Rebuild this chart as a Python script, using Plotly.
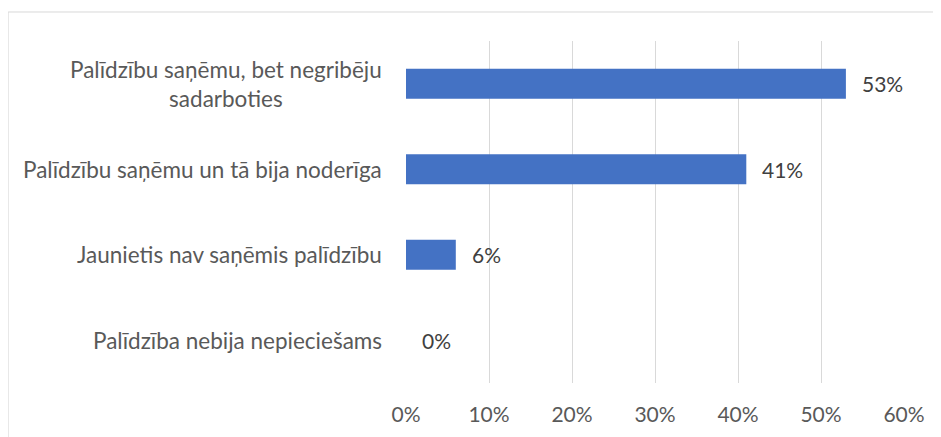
import plotly.graph_objects as go

categories = [
    "Palīdzību saņēmu, bet negribēju<br>sadarboties",
    "Palīdzību saņēmu un tā bija noderīga",
    "Jaunietis nav saņēmis palīdzību",
    "Palīdzība nebija nepieciešams",
]
values = [53, 41, 6, 0]
tick_vals = [0, 10, 20, 30, 40, 50, 60]
tick_text = ["0%", "10%", "20%", "30%", "40%", "50%", "60%"]

FONT = "Lato, 'Open Sans', sans-serif"
TXT = "#595959"
FS = 21

fig = go.Figure(
    go.Bar(
        y=list(range(len(categories))),
        x=values,
        orientation="h",
        marker=dict(color="#4472C4", line=dict(width=0)),
        width=0.35,
        hoverinfo="x+y",
    )
)

for i, c in enumerate(categories):
    fig.add_annotation(
        x=0, xref="paper", y=i, yref="y", text=c, showarrow=False,
        xanchor="right", yanchor="middle", align="center", xshift=-22,
        font=dict(family=FONT, size=22.5, color=TXT),
    )

for i, v in enumerate(values):
    fig.add_annotation(
        x=v, xref="x", y=i, yref="y", text=f"{v}%", showarrow=False,
        xanchor="left", yanchor="middle", xshift=14,
        font=dict(family=FONT, size=FS, color="#404040"),
    )

fig.add_shape(
    type="rect", xref="paper", yref="paper",
    x0=-0.799, x1=1.3, y0=-0.5, y1=1.0848,
    line=dict(color="#D9D9D9", width=1), fillcolor="rgba(0,0,0,0)", layer="below",
)

fig.update_layout(
    width=941, height=437,
    margin=dict(l=398, r=45, t=33, b=62, autoexpand=False),
    paper_bgcolor="white", plot_bgcolor="white",
    showlegend=False,
    xaxis=dict(
        range=[0, 60], tickvals=tick_vals, ticktext=tick_text,
        showgrid=True, gridcolor="#D9D9D9", gridwidth=1.3,
        zeroline=False, showline=False, ticks="",
        tickfont=dict(family=FONT, size=FS, color=TXT),
        ticklabelstandoff=17,
        fixedrange=True,
    ),
    yaxis=dict(
        range=[3.5, -0.5], showticklabels=False, showgrid=False,
        zeroline=False, showline=False, ticks="",
    ),
)

fig.write_html("out.html")
